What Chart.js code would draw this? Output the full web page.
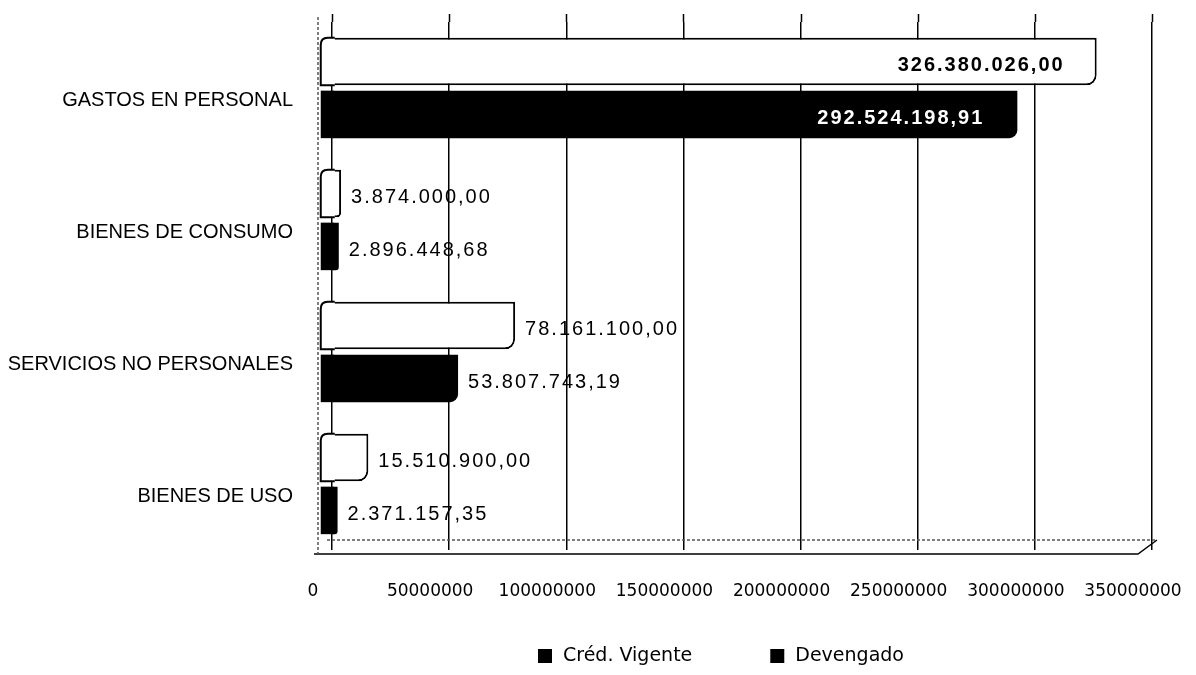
<!DOCTYPE html>
<html>
<head>
<meta charset="utf-8">
<script src="https://cdn.jsdelivr.net/npm/chart.js@4.4.1/dist/chart.umd.min.js"></script>
<style>
  html, body { margin: 0; padding: 0; background: #fff; }
  #wrap { width: 1196px; height: 675px; }
</style>
</head>
<body>
<div id="wrap"><canvas id="c" width="1196" height="675"></canvas></div>
<script>
const categories = ['GASTOS EN PERSONAL', 'BIENES DE CONSUMO', 'SERVICIOS NO PERSONALES', 'BIENES DE USO'];
const credVigente = [326380026.00, 3874000.00, 78161100.00, 15510900.00];
const devengado = [292524198.91, 2896448.68, 53807743.19, 2371157.35];
const seriesNames = ['Créd. Vigente', 'Devengado'];
const xTickLabels = ['0', '50000000', '100000000', '150000000', '200000000', '250000000', '300000000', '350000000'];

function fmt(v) {
  const parts = v.toFixed(2).split('.');
  return parts[0].replace(/\B(?=(\d{3})+(?!\d))/g, '.') + ',' + parts[1];
}

// 3D-style front face extension at the base of each bar
const depthPlugin = {
  id: 'barDepth',
  afterDatasetsDraw(chart) {
    const ctx = chart.ctx;
    const d = 12;
    ctx.save();
    chart.data.datasets.forEach((ds, i) => {
      const meta = chart.getDatasetMeta(i);
      meta.data.forEach((bar) => {
        const top = bar.y - bar.height / 2;
        const bottom = bar.y + bar.height / 2;
        const base = bar.base;
        if (i === 0) {
          const r = 7;
          ctx.beginPath();
          ctx.moveTo(base + 2, top);
          ctx.lineTo(base - d + r, top);
          ctx.quadraticCurveTo(base - d, top, base - d, top + r);
          ctx.lineTo(base - d, bottom);
          ctx.lineTo(base + 2, bottom);
          ctx.closePath();
          ctx.fillStyle = '#fff';
          ctx.fill();
          ctx.beginPath();
          ctx.moveTo(base + 2, top);
          ctx.lineTo(base - d + r, top);
          ctx.quadraticCurveTo(base - d, top, base - d, top + r);
          ctx.lineTo(base - d, bottom);
          ctx.lineTo(base + 2, bottom);
          ctx.strokeStyle = '#000';
          ctx.lineWidth = 2;
          ctx.stroke();
        } else {
          ctx.fillStyle = '#000';
          ctx.fillRect(base - d, top, d + 1, bottom - top);
        }
      });
    });
    ctx.restore();
  }
};

const valueLabelPlugin = {
  id: 'valueLabels',
  afterDatasetsDraw(chart) {
    const ctx = chart.ctx;
    const area = chart.chartArea;
    ctx.save();
    ctx.textBaseline = 'middle';
    chart.data.datasets.forEach((ds, i) => {
      const meta = chart.getDatasetMeta(i);
      meta.data.forEach((bar, j) => {
        const text = fmt(ds.data[j]);
        ctx.font = '20px "Liberation Sans", Arial, sans-serif';
        ctx.letterSpacing = '2px';
        const w = ctx.measureText(text).width;
        const y = bar.y + 4;
        if (bar.x + 10 + w > area.right) {
          ctx.textAlign = 'right';
          ctx.font = 'bold 20px "Liberation Sans", Arial, sans-serif';
          if (i === 0) {
            ctx.fillStyle = '#000';
            ctx.fillText(text, bar.x - 32, y);
          } else {
            ctx.lineWidth = 2;
            ctx.strokeStyle = '#000';
            ctx.strokeText(text, bar.x - 33, y);
            ctx.fillStyle = '#fff';
            ctx.fillText(text, bar.x - 33, y);
          }
        } else {
          ctx.textAlign = 'left';
          ctx.fillStyle = '#000';
          ctx.fillText(text, bar.x + 10, y);
        }
      });
    });
    ctx.restore();
  }
};

const floorPlugin = {
  id: 'floor3d',
  beforeDatasetsDraw(chart) {
    const ctx = chart.ctx;
    const a = chart.chartArea;
    const xs = chart.scales.x;
    const x0 = xs.getPixelForValue(0);
    const x1 = xs.getPixelForValue(xs.max);
    ctx.save();
    ctx.strokeStyle = '#000';
    ctx.lineWidth = 1.5;
    // gridlines reach a little above the plot (back wall top)
    xs.ticks.forEach((t) => {
      const x = Math.round(xs.getPixelForValue(t.value)) + 0.5;
      ctx.beginPath();
      ctx.moveTo(x, a.top - 8);
      ctx.lineTo(x, a.top);
      ctx.stroke();
    });
    ctx.beginPath();
    ctx.moveTo(x0 - 18, a.bottom + 4);
    ctx.lineTo(x1 - 14, a.bottom + 4);
    ctx.lineTo(x1 + 5, a.bottom - 10);
    ctx.stroke();
    ctx.setLineDash([3, 2]);
    ctx.strokeStyle = '#555';
    ctx.beginPath();
    ctx.moveTo(x0 - 5, a.bottom - 10);
    ctx.lineTo(x1 + 5, a.bottom - 10);
    ctx.stroke();
    ctx.beginPath();
    ctx.moveTo(x0 - 14, a.top - 5);
    ctx.lineTo(x0 - 14, a.bottom + 4);
    ctx.stroke();
    ctx.restore();
  }
};

const legendPlugin = {
  id: 'customLegend',
  afterDraw(chart) {
    const ctx = chart.ctx;
    ctx.save();
    ctx.font = '19px "DejaVu Sans", sans-serif';
    ctx.textBaseline = 'middle';
    ctx.textAlign = 'left';
    const y = 656;
    let x = 538;
    chart.data.datasets.forEach((ds) => {
      ctx.fillStyle = '#000';
      ctx.fillRect(x, y - 7, 14, 14);
      ctx.fillText(ds.label, x + 25, y);
      x += 25 + ctx.measureText(ds.label).width + 78;
    });
    ctx.restore();
  }
};

function zeroPad(s) {
  s.paddingLeft = 0; s.paddingRight = 0; s.paddingTop = 0; s.paddingBottom = 0;
}

new Chart(document.getElementById('c'), {
  type: 'bar',
  data: {
    labels: categories,
    datasets: [
      {
        label: seriesNames[0],
        data: credVigente,
        backgroundColor: '#ffffff',
        borderColor: '#000000',
        borderWidth: 2,
        borderSkipped: 'start',
        borderRadius: { bottomRight: 10 }
      },
      {
        label: seriesNames[1],
        data: devengado,
        backgroundColor: '#000000',
        borderColor: '#000000',
        borderWidth: 0,
        borderSkipped: 'start',
        borderRadius: { bottomRight: 8 }
      }
    ]
  },
  options: {
    indexAxis: 'y',
    responsive: false,
    animation: false,
    devicePixelRatio: 1,
    layout: { padding: { top: 22, right: 44, bottom: 0, left: 0 } },
    categoryPercentage: 0.8,
    barPercentage: 0.9,
    plugins: {
      legend: { display: false },
      tooltip: { enabled: false }
    },
    scales: {
      x: {
        min: 0,
        max: 350000000,
        afterFit(s) { s.height = 125; zeroPad(s); },
        ticks: {
          stepSize: 50000000,
          padding: 31,
          labelOffset: -19,
          color: '#000',
          maxRotation: 0,
          autoSkip: false,
          font: { family: '"DejaVu Sans", sans-serif', size: 17 },
          callback: (v, i) => xTickLabels[i]
        },
        grid: { color: '#000', lineWidth: 1.5, drawTicks: false },
        border: { display: false }
      },
      y: {
        afterFit(s) { s.width = 332; zeroPad(s); },
        ticks: {
          padding: 39,
          labelOffset: 12,
          color: '#000',
          font: { family: '"Liberation Sans", Arial, sans-serif', size: 20 }
        },
        grid: { display: false, drawTicks: false },
        border: { display: false }
      }
    }
  },
  plugins: [floorPlugin, depthPlugin, valueLabelPlugin, legendPlugin]
});
</script>
</body>
</html>
